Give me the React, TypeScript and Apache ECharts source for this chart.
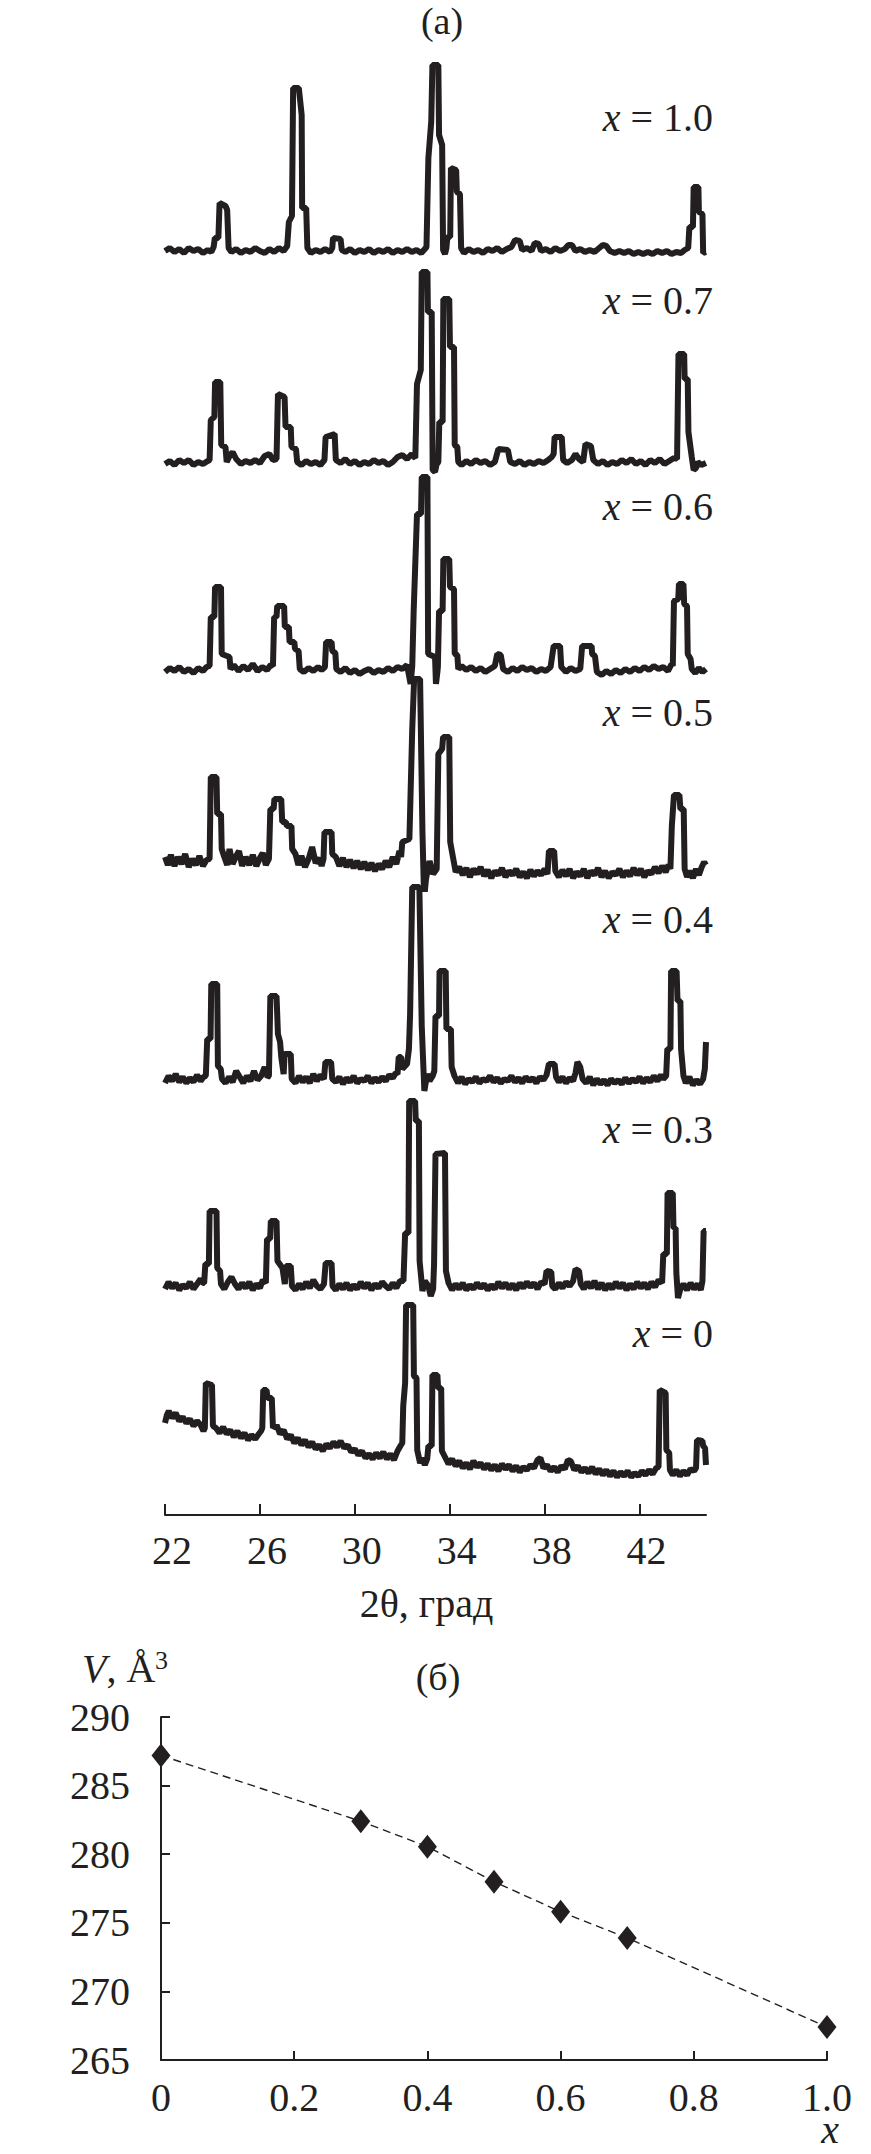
import React, { useEffect, useRef } from 'react';
import * as echarts from 'echarts';

const INK = '#231f20';
const FONT = "'Liberation Serif', 'Times New Roman', serif";

// ---- (a) XRD patterns: [2theta, intensity above baseline (arb. units)] ----
const SAMPLE_X = ['1.0', '0.7', '0.6', '0.5', '0.4', '0.3', '0'];
const TWO_THETA_TICKS = [22, 26, 30, 34, 38, 42];

const S10 = [
  [22.0,-1],[22.2,2],[22.4,-2],[22.6,1],[22.8,-3],[23.0,2],[23.2,-1],[23.4,1],[23.6,-3],[23.8,0],[23.95,-2],
  [24.05,3],[24.1,12],[24.25,12],[24.3,47],[24.55,44],[24.62,40],[24.68,2],
  [24.8,-2],[25.0,1],[25.2,-3],[25.4,0],[25.6,-2],[25.8,2],[26.0,-1],[26.2,-3],[26.4,1],[26.6,-2],[26.8,2],[27.0,-1],
  [27.15,4],[27.22,28],[27.35,34],[27.4,162],[27.64,162],[27.76,135],[27.78,42],[27.95,42],[28.0,2],
  [28.15,-3],[28.35,0],[28.55,-2],[28.75,1],[28.95,-2],
  [29.05,2],[29.08,12],[29.4,11],[29.45,0],
  [29.6,-2],[29.8,1],[30.0,-3],[30.2,0],[30.4,-2],[30.6,1],[30.8,-3],[31.0,0],[31.2,-2],[31.4,1],[31.6,-3],[31.8,0],[32.0,-2],[32.2,1],[32.4,-2],[32.6,0],[32.8,-3],[32.95,1],
  [33.02,3],[33.1,92],[33.22,128],[33.27,185],[33.52,185],[33.55,115],[33.68,105],[33.72,0],[33.8,-4],
  [33.86,2],[33.9,13],[34.02,13],[34.05,82],[34.27,80],[34.3,58],[34.43,56],[34.48,2],
  [34.6,-3],[34.8,1],[35.0,-2],[35.2,0],[35.4,-3],[35.6,1],[35.8,-1],[36.0,2],[36.2,-2],[36.4,1],[36.6,3],[36.75,10],[36.95,9],[37.05,0],[37.25,2],[37.45,-1],[37.58,7],[37.75,6],[37.85,-1],[38.05,1],[38.25,-2],[38.45,2],[38.65,-1],[38.85,1],[39.0,5],[39.15,5],[39.3,-1],[39.5,1],[39.7,-2],[39.9,0],[40.1,-2],[40.3,2],[40.45,5],[40.6,4],[40.75,-1],[40.95,-3],[41.15,-1],[41.35,-3],[41.55,-1],[41.75,-4],[41.95,-2],[42.15,-4],[42.35,-2],[42.55,-4],[42.75,-1],[42.95,-3],[43.15,-1],[43.35,-4],[43.55,-2],[43.75,-3],[43.9,0],
  [44.05,2],[44.1,23],[44.25,23],[44.28,63],[44.48,63],[44.5,38],[44.65,36],[44.68,-3],[44.8,-2]
];

const S07 = [
  [22.0,-2],[22.2,1],[22.4,-3],[22.6,2],[22.8,-1],[23.0,2],[23.2,-3],[23.4,0],[23.6,-2],[23.8,1],
  [23.88,2],[23.93,42],[24.08,45],[24.11,80],[24.33,80],[24.37,17],[24.55,15],[24.6,0],
  [24.7,5],[24.85,10],[25.0,3],[25.2,-2],[25.4,1],[25.6,-1],[25.8,2],[26.0,-1],[26.2,6],[26.4,8],[26.55,2],
  [26.7,3],[26.76,68],[27.04,65],[27.08,35],[27.3,35],[27.33,15],[27.52,13],[27.57,0],
  [27.75,-3],[27.95,1],[28.15,-2],[28.35,0],[28.55,-3],
  [28.72,2],[28.77,25],[29.15,28],[29.2,2],
  [29.4,-1],[29.6,3],[29.8,-2],[30.0,1],[30.2,-3],[30.4,0],[30.6,-2],[30.8,2],[31.0,-1],[31.2,1],[31.4,-3],[31.6,0],[31.8,5],[32.0,7],[32.2,3],[32.4,8],[32.5,5],
  [32.55,4],[32.62,78],[32.78,92],[32.82,190],[33.06,190],[33.08,150],[33.24,150],[33.28,-8],[33.38,-10],[33.45,-2],
  [33.52,0],[33.56,40],[33.7,40],[33.73,163],[33.98,163],[34.01,115],[34.18,115],[34.21,17],[34.32,15],[34.36,0],
  [34.5,-3],[34.7,1],[34.9,-2],[35.1,2],[35.3,-1],[35.5,1],[35.7,-3],[35.9,0],[36.05,13],[36.45,12],[36.55,0],[36.75,-2],[36.95,1],[37.15,-3],[37.35,0],[37.55,-2],[37.75,1],[37.95,-1],[38.15,2],[38.3,5],
  [38.38,8],[38.42,25],[38.72,25],[38.78,2],
  [38.95,-1],[39.15,2],[39.3,8],[39.45,3],[39.62,0],[39.72,18],[39.95,16],[40.05,2],[40.25,-2],[40.45,1],[40.65,-3],[40.85,0],[41.05,-2],[41.25,2],[41.45,-1],[41.65,3],[41.85,-2],[42.05,1],[42.25,-3],[42.45,2],[42.65,-1],[42.85,3],[43.05,-2],[43.25,1],[43.45,4],
  [43.58,3],[43.64,108],[43.88,108],[43.9,83],[44.03,83],[44.06,30],[44.2,5],[44.28,-8],[44.38,-6],[44.45,0],
  [44.6,-3],[44.8,-1]
];

const S06 = [
  [22.0,-3],[22.2,1],[22.4,-2],[22.6,2],[22.8,-3],[23.0,0],[23.2,-4],[23.4,1],[23.6,-2],[23.75,2],
  [23.88,3],[23.93,52],[24.08,52],[24.11,82],[24.36,82],[24.39,15],[24.72,12],[24.76,0],
  [24.9,4],[25.1,-2],[25.3,3],[25.5,-1],[25.7,5],[25.9,-2],[26.1,2],[26.3,-1],[26.45,4],
  [26.55,3],[26.6,52],[26.7,52],[26.73,63],[27.02,63],[27.05,42],[27.22,42],[27.25,27],[27.45,27],[27.48,20],[27.63,18],[27.68,0],
  [27.85,-3],[28.05,1],[28.25,-2],[28.45,2],[28.6,-1],
  [28.74,2],[28.79,27],[29.02,27],[29.05,18],[29.18,16],[29.22,0],
  [29.4,-3],[29.6,1],[29.8,-4],[30.0,-1],[30.2,-5],[30.4,-2],[30.6,0],[30.8,-4],[31.0,-1],[31.2,-3],[31.4,1],[31.6,-2],[31.8,2],[32.0,0],[32.2,4],[32.35,-15],
  [32.42,3],[32.48,58],[32.62,155],[32.79,155],[32.82,192],[33.06,192],[33.09,15],[33.38,12],[33.42,-15],[33.48,-3],
  [33.5,2],[33.55,58],[33.7,58],[33.73,110],[33.98,110],[34.01,82],[34.18,80],[34.21,15],[34.32,14],[34.36,0],
  [34.5,3],[34.7,-1],[34.9,2],[35.1,-2],[35.3,1],[35.5,-3],[35.7,0],[35.9,3],[36.0,15],[36.15,14],[36.25,0],[36.45,-3],[36.65,1],[36.85,-2],[37.05,2],[37.25,-1],[37.45,1],[37.65,-3],[37.85,0],[38.05,-2],[38.25,2],
  [38.38,23],[38.65,23],[38.7,2],
  [38.9,-3],[39.1,1],[39.3,-2],[39.5,0],[39.58,23],[39.98,23],[40.0,15],[40.12,13],[40.2,-3],[40.4,-6],[40.6,-2],[40.8,-5],[41.0,-1],[41.2,-4],[41.4,0],[41.6,-3],[41.8,1],[42.0,-2],[42.2,2],[42.4,-1],[42.6,3],[42.8,0],[43.0,2],[43.2,-2],[43.35,5],
  [43.4,3],[43.45,68],[43.63,70],[43.66,85],[43.85,85],[43.88,65],[44.0,63],[44.03,15],[44.15,10],[44.2,0],
  [44.35,-4],[44.5,1],[44.65,-3],[44.8,0]
];

const S05 = [
  [22.0,12],[22.12,4],[22.25,14],[22.4,3],[22.55,12],[22.7,5],[22.85,15],[23.0,2],[23.15,10],[23.3,4],[23.45,13],[23.6,3],[23.75,9],
  [23.88,10],[23.93,92],[24.17,92],[24.2,55],[24.36,55],[24.39,20],[24.5,12],
  [24.62,4],[24.72,20],[24.85,5],[25.0,13],[25.12,18],[25.25,3],[25.4,12],[25.55,4],[25.7,14],[25.85,3],[26.0,11],[26.12,16],[26.25,4],
  [26.38,10],[26.44,60],[26.58,60],[26.61,70],[26.9,70],[26.94,47],[27.1,47],[27.13,43],[27.33,43],[27.36,20],[27.5,15],
  [27.62,4],[27.75,13],[27.9,2],[28.05,10],[28.2,22],[28.35,6],[28.5,11],[28.6,3],
  [28.68,10],[28.72,37],[29.02,37],[29.05,15],[29.2,12],
  [29.35,3],[29.5,11],[29.65,2],[29.8,9],[29.95,1],[30.1,8],[30.25,0],[30.4,7],[30.55,-1],[30.7,6],[30.85,-2],[31.0,5],[31.15,0],[31.3,8],[31.45,2],[31.6,12],[31.75,5],[31.88,18],
  [31.95,12],[32.0,27],[32.3,30],[32.42,140],[32.5,190],[32.75,190],[32.85,37],[32.92,-30],[33.0,-10],[33.15,8],[33.3,-5],
  [33.45,0],[33.52,115],[33.68,120],[33.72,132],[33.98,132],[34.02,27],[34.15,10],[34.25,-3],
  [34.4,2],[34.55,-6],[34.7,1],[34.85,-8],[35.0,0],[35.15,-5],[35.3,2],[35.45,-7],[35.6,-1],[35.75,-9],[35.9,-2],[36.05,-6],[36.2,1],[36.35,-8],[36.5,-2],[36.65,-6],[36.8,0],[36.95,-8],[37.1,-3],[37.25,-9],[37.4,-1],[37.55,-7],[37.7,-2],[37.85,-6],[38.0,0],[38.12,-5],
  [38.18,18],[38.4,18],[38.45,-2],
  [38.6,-8],[38.75,-1],[38.9,-7],[39.05,0],[39.2,-9],[39.35,-3],[39.5,-7],[39.65,0],[39.8,-9],[39.95,-2],[40.1,-6],[40.25,1],[40.4,-8],[40.55,-2],[40.7,-9],[40.85,-3],[41.0,-6],[41.15,0],[41.3,-8],[41.45,-2],[41.6,-7],[41.75,1],[41.9,-6],[42.05,0],[42.2,-8],[42.35,-2],[42.5,-5],[42.65,2],[42.8,-4],[42.95,3],[43.1,-3],[43.22,4],
  [43.3,0],[43.36,43],[43.45,74],[43.68,74],[43.72,60],[43.86,60],[43.9,0],
  [44.0,-8],[44.12,-2],[44.25,-9],[44.38,0],[44.5,-6],[44.62,2],[44.72,7],[44.8,4]
];

const S04 = [
  [22.0,-4],[22.15,3],[22.3,-2],[22.45,5],[22.6,-3],[22.75,2],[22.9,-4],[23.05,1],[23.2,-3],[23.35,4],[23.5,-2],[23.62,2],
  [23.72,3],[23.78,40],[23.92,40],[23.95,95],[24.2,95],[24.23,13],[24.35,10],[24.4,0],
  [24.55,-4],[24.7,2],[24.85,-3],[25.0,8],[25.15,2],[25.3,-4],[25.45,3],[25.6,-2],[25.75,8],[25.9,-1],[26.05,3],[26.2,12],[26.32,2],
  [26.38,3],[26.44,83],[26.7,83],[26.76,45],[26.85,37],[26.9,22],[27.0,5],[27.04,25],[27.3,25],[27.34,0],
  [27.5,-4],[27.65,3],[27.8,-3],[27.95,2],[28.1,-4],[28.25,5],[28.4,-2],[28.55,4],[28.7,0],
  [28.76,17],[29.0,17],[29.05,0],
  [29.2,-3],[29.35,2],[29.5,-5],[29.65,1],[29.8,-3],[29.95,3],[30.1,-4],[30.25,0],[30.4,-2],[30.55,3],[30.7,-4],[30.85,1],[31.0,-3],[31.15,2],[31.3,-2],[31.45,4],[31.6,1],[31.72,6],
  [31.8,5],[31.85,22],[31.95,22],[32.0,10],[32.2,15],[32.28,30],[32.33,65],[32.42,192],[32.72,192],[32.82,53],[32.93,-12],[33.05,5],[33.15,-2],
  [33.28,3],[33.35,8],[33.4,63],[33.55,63],[33.57,108],[33.83,108],[33.86,50],[34.05,50],[34.08,12],[34.2,3],
  [34.35,-4],[34.5,2],[34.65,-5],[34.8,0],[34.95,-3],[35.1,2],[35.25,-4],[35.4,0],[35.55,-2],[35.7,3],[35.85,-3],[36.0,1],[36.15,-4],[36.3,0],[36.45,-2],[36.6,3],[36.75,-3],[36.9,1],[37.05,-4],[37.2,2],[37.35,-2],[37.5,1],[37.65,-4],[37.8,2],[37.95,-1],[38.08,4],
  [38.18,15],[38.42,15],[38.48,2],
  [38.6,-3],[38.75,2],[38.9,-4],[39.05,1],[39.2,-2],[39.3,6],[39.38,17],[39.5,12],[39.6,0],[39.75,-4],[39.9,2],[40.05,-6],[40.2,0],[40.35,-5],[40.5,-1],[40.65,-6],[40.8,0],[40.95,-4],[41.1,-1],[41.25,-5],[41.4,1],[41.55,-4],[41.7,0],[41.85,-3],[42.0,2],[42.15,-4],[42.3,1],[42.45,-3],[42.6,3],[42.75,-2],[42.9,4],[43.0,0],
  [43.12,3],[43.17,30],[43.3,30],[43.33,108],[43.56,108],[43.6,78],[43.72,78],[43.75,30],[43.85,3],
  [43.95,-4],[44.1,2],[44.25,-6],[44.4,-1],[44.55,-5],[44.68,0],[44.75,10],[44.8,37]
];

const S03 = [
  [22.0,-3],[22.15,4],[22.3,-2],[22.45,3],[22.6,-4],[22.75,1],[22.9,-2],[23.05,4],[23.2,-3],[23.35,2],[23.5,7],[23.6,3],
  [23.65,3],[23.7,22],[23.85,22],[23.88,75],[24.17,75],[24.2,18],[24.32,15],[24.36,2],
  [24.5,-3],[24.65,4],[24.8,9],[24.95,2],[25.1,-3],[25.25,3],[25.4,-2],[25.55,4],[25.7,-4],[25.85,2],[26.0,-2],[26.12,6],
  [26.25,3],[26.3,47],[26.43,47],[26.46,65],[26.7,65],[26.74,25],[26.95,18],[27.05,2],[27.1,20],[27.3,20],[27.35,0],
  [27.5,-4],[27.65,2],[27.8,-3],[27.95,4],[28.1,-2],[28.25,6],[28.4,0],[28.55,-3],[28.7,2],
  [28.77,23],[29.02,23],[29.06,0],
  [29.2,-4],[29.35,2],[29.5,-3],[29.65,3],[29.8,-4],[29.95,1],[30.1,-3],[30.25,4],[30.4,-2],[30.55,3],[30.7,-4],[30.85,2],[31.0,-2],[31.15,4],[31.3,0],[31.45,-3],[31.6,3],[31.75,-2],[31.9,5],
  [32.05,5],[32.12,53],[32.26,53],[32.29,185],[32.54,185],[32.57,165],[32.7,165],[32.73,25],[32.85,-5],[32.95,5],[33.1,0],
  [33.2,-10],[33.3,-3],[33.34,22],[33.4,132],[33.8,133],[33.84,15],[33.95,3],
  [34.1,-4],[34.25,2],[34.4,-3],[34.55,3],[34.7,-4],[34.85,1],[35.0,-3],[35.15,3],[35.3,-2],[35.45,2],[35.6,-4],[35.75,1],[35.9,-3],[36.05,4],[36.2,-2],[36.35,3],[36.5,-3],[36.65,2],[36.8,-4],[36.95,3],[37.1,-2],[37.25,4],[37.4,-1],[37.55,3],[37.7,-3],[37.85,4],[38.0,2],
  [38.08,15],[38.28,14],[38.32,0],
  [38.45,-3],[38.6,3],[38.75,-2],[38.9,4],[39.05,0],[39.2,5],[39.3,17],[39.45,15],[39.52,2],[39.65,-3],[39.8,4],[39.95,-2],[40.1,5],[40.25,-3],[40.4,3],[40.55,-4],[40.7,2],[40.85,-3],[41.0,4],[41.15,-2],[41.3,3],[41.45,-4],[41.6,2],[41.75,-3],[41.9,4],[42.05,-2],[42.2,3],[42.35,-3],[42.5,4],[42.65,-1],[42.8,6],
  [42.95,3],[43.0,32],[43.15,32],[43.18,93],[43.4,93],[43.43,58],[43.52,58],[43.55,13],[43.62,-12],[43.72,-3],
  [43.85,2],[44.0,-4],[44.15,3],[44.3,-3],[44.45,2],[44.58,-4],[44.65,5],[44.7,55],[44.8,55]
];

const S00 = [
  [22.0,50],[22.08,58],[22.16,62],[22.3,55],[22.45,60],[22.6,52],[22.75,56],[22.9,50],[23.05,54],[23.2,47],[23.35,52],[23.5,48],[23.62,42],
  [23.68,45],[23.72,90],[23.98,88],[24.02,47],
  [24.15,45],[24.3,40],[24.45,46],[24.6,39],[24.75,43],[24.9,36],[25.05,42],[25.2,35],[25.35,40],[25.5,33],[25.65,38],[25.8,34],[25.95,39],[26.05,42],
  [26.1,45],[26.14,83],[26.28,83],[26.32,75],[26.5,75],[26.55,45],
  [26.7,48],[26.85,39],[27.0,43],[27.15,34],[27.3,38],[27.45,30],[27.6,35],[27.75,28],[27.9,33],[28.05,26],[28.2,31],[28.35,24],[28.5,28],[28.65,22],[28.8,29],[28.95,25],[29.1,31],[29.25,26],[29.4,32],[29.55,25],[29.7,28],[29.85,21],[30.0,24],[30.15,18],[30.3,22],[30.45,15],[30.6,19],[30.75,14],[30.9,20],[31.05,15],[31.2,21],[31.35,14],[31.5,19],[31.65,13],[31.8,22],[31.92,27],
  [32.0,30],[32.04,67],[32.12,90],[32.16,168],[32.46,168],[32.49,97],[32.6,95],[32.63,23],[32.75,10],[32.85,15],[32.95,8],[33.05,14],
  [33.1,27],[33.24,27],[33.27,98],[33.48,98],[33.51,85],[33.64,85],[33.67,22],
  [33.8,16],[33.95,9],[34.1,14],[34.25,7],[34.4,12],[34.55,5],[34.7,10],[34.85,4],[35.0,12],[35.15,6],[35.3,10],[35.45,4],[35.6,9],[35.75,3],[35.9,8],[36.05,2],[36.2,9],[36.35,4],[36.5,8],[36.65,2],[36.8,7],[36.95,1],[37.1,6],[37.25,3],[37.4,8],[37.55,5],[37.7,13],[37.82,15],[37.95,5],[38.1,8],[38.25,2],[38.4,6],[38.55,1],[38.7,7],[38.85,4],[38.98,13],[39.1,12],[39.25,3],[39.4,7],[39.55,1],[39.7,5],[39.85,0],[40.0,6],[40.15,-1],[40.3,4],[40.45,-2],[40.6,3],[40.75,-3],[40.9,2],[41.05,-4],[41.2,1],[41.35,-3],[41.5,2],[41.65,-4],[41.8,0],[41.95,-3],[42.1,2],[42.25,-2],[42.4,3],[42.55,-1],[42.7,5],
  [42.8,6],[42.85,83],[43.1,80],[43.13,23],[43.25,20],[43.28,3],
  [43.4,-2],[43.55,3],[43.7,-3],[43.85,2],[44.0,-2],[44.15,4],[44.3,2],
  [44.38,5],[44.42,33],[44.65,32],[44.68,27],[44.76,25],[44.8,8]
];

const SPECTRA = [S10, S07, S06, S05, S04, S03, S00];

// ---- (б) cell volume vs x ----
const VOL_X = [0, 0.3, 0.4, 0.5, 0.6, 0.7, 1.0];
const VOL_V = [287.2, 282.4, 280.55, 278.0, 275.8, 273.9, 267.4];

// layout (pixels)
const BASELINES = [250, 462, 669, 869, 1079, 1286, 1473];
const LABEL_Y = [117, 300, 506, 712, 919, 1129, 1333];

export default function App() {
  const ref = useRef<HTMLDivElement>(null);
  useEffect(() => {
    document.body.style.margin = '0';
    if (!ref.current) return;
    const chart = echarts.init(ref.current, null, { renderer: 'svg' });

    const grids: any[] = [];
    const xAxes: any[] = [];
    const yAxes: any[] = [];
    const series: any[] = [];

    SPECTRA.forEach((data, i) => {
      const last = i === SPECTRA.length - 1;
      const ymin = last ? -42 : -20;
      grids.push({ left: 165, width: 541, top: BASELINES[i] - 200, height: 200 - ymin, outerBoundsMode: 'none' });
      xAxes.push({
        type: 'value', gridIndex: i, min: 22, max: 44.8, show: last,
        axisLine: { show: true, onZero: false, lineStyle: { color: INK, width: 2 } },
        axisTick: { show: true, inside: true, length: 11, lineStyle: { color: INK, width: 2 }, customValues: TWO_THETA_TICKS },
        axisLabel: { show: true, customValues: TWO_THETA_TICKS, color: INK, fontFamily: FONT, fontSize: 40, margin: 15, padding: [0, 0, 0, 14] },
        splitLine: { show: false },
        name: last ? '2θ, град' : '',
        nameLocation: 'middle', nameGap: 68,
        nameTextStyle: { color: INK, fontFamily: FONT, fontSize: 40, padding: [0, 18, 0, 0] },
      });
      yAxes.push({ type: 'value', gridIndex: i, min: ymin, max: 200, show: false, splitLine: { show: false } });
      series.push({
        type: 'line', xAxisIndex: i, yAxisIndex: i, data, showSymbol: false, symbol: 'none', silent: true,
        lineStyle: { color: INK, width: 6 },
      });
    });

    // panel (б)
    const gb = SPECTRA.length;
    grids.push({ left: 161, top: 1717, width: 666, height: 343, outerBoundsMode: 'none' });
    xAxes.push({
      type: 'value', gridIndex: gb, min: 0, max: 1, interval: 0.2,
      axisLine: { show: true, onZero: false, lineStyle: { color: INK, width: 2 } },
      axisTick: { show: true, inside: true, length: 9, lineStyle: { color: INK, width: 2 } },
      axisLabel: { color: INK, fontFamily: FONT, fontSize: 40, margin: 17,
        formatter: (v: number) => (v === 0 ? '0' : v.toFixed(1)) },
      splitLine: { show: false },
    });
    yAxes.push({
      type: 'value', gridIndex: gb, min: 265, max: 290, interval: 5,
      axisLine: { show: true, onZero: false, lineStyle: { color: INK, width: 2 } },
      axisTick: { show: true, inside: true, length: 9, lineStyle: { color: INK, width: 2 } },
      axisLabel: { color: INK, fontFamily: FONT, fontSize: 40, margin: 31 },
      splitLine: { show: false },
    });
    series.push({
      type: 'line', xAxisIndex: gb, yAxisIndex: gb,
      data: VOL_X.map((x, i) => [x, VOL_V[i]]),
      symbol: 'diamond', symbolSize: [19, 24], showSymbol: true,
      itemStyle: { color: INK },
      lineStyle: { color: INK, width: 1.4, type: [8, 5] },
      silent: true,
    });

    const txt = (text: string, x: number, y: number, align: string, size: number, extra: any = {}) => ({
      type: 'text', x, y, silent: true,
      style: { text, fill: INK, fontFamily: FONT, fontSize: size, align, verticalAlign: 'middle', ...extra },
    });

    const graphics: any[] = [
      txt('(a)', 442, 21, 'center', 38),
      txt('(б)', 438, 1677, 'center', 38),
      txt('{i|V}{n|, Å}', 82, 1668, 'left', 40, {
        rich: {
          i: { fontFamily: FONT, fontSize: 40, fontStyle: 'italic', fill: INK },
          n: { fontFamily: FONT, fontSize: 40, fill: INK },
        },
      }),
      txt('3', 155, 1660, 'left', 26),
      txt('x', 830, 2129, 'center', 40, { fontStyle: 'italic' }),
    ];
    SAMPLE_X.forEach((v, i) => {
      graphics.push(txt(`{i|x}{n| = ${v}}`, 713, LABEL_Y[i], 'right', 40, {
        rich: {
          i: { fontFamily: FONT, fontSize: 40, fontStyle: 'italic', fill: INK },
          n: { fontFamily: FONT, fontSize: 40, fill: INK },
        },
      }));
    });

    chart.setOption({
      animation: false,
      backgroundColor: '#ffffff',
      textStyle: { fontFamily: FONT, color: INK },
      grid: grids,
      xAxis: xAxes,
      yAxis: yAxes,
      series,
      graphic: graphics,
    });
    return () => chart.dispose();
  }, []);
  return <div ref={ref} style={{ width: 871, height: 2154 }} />;
}
